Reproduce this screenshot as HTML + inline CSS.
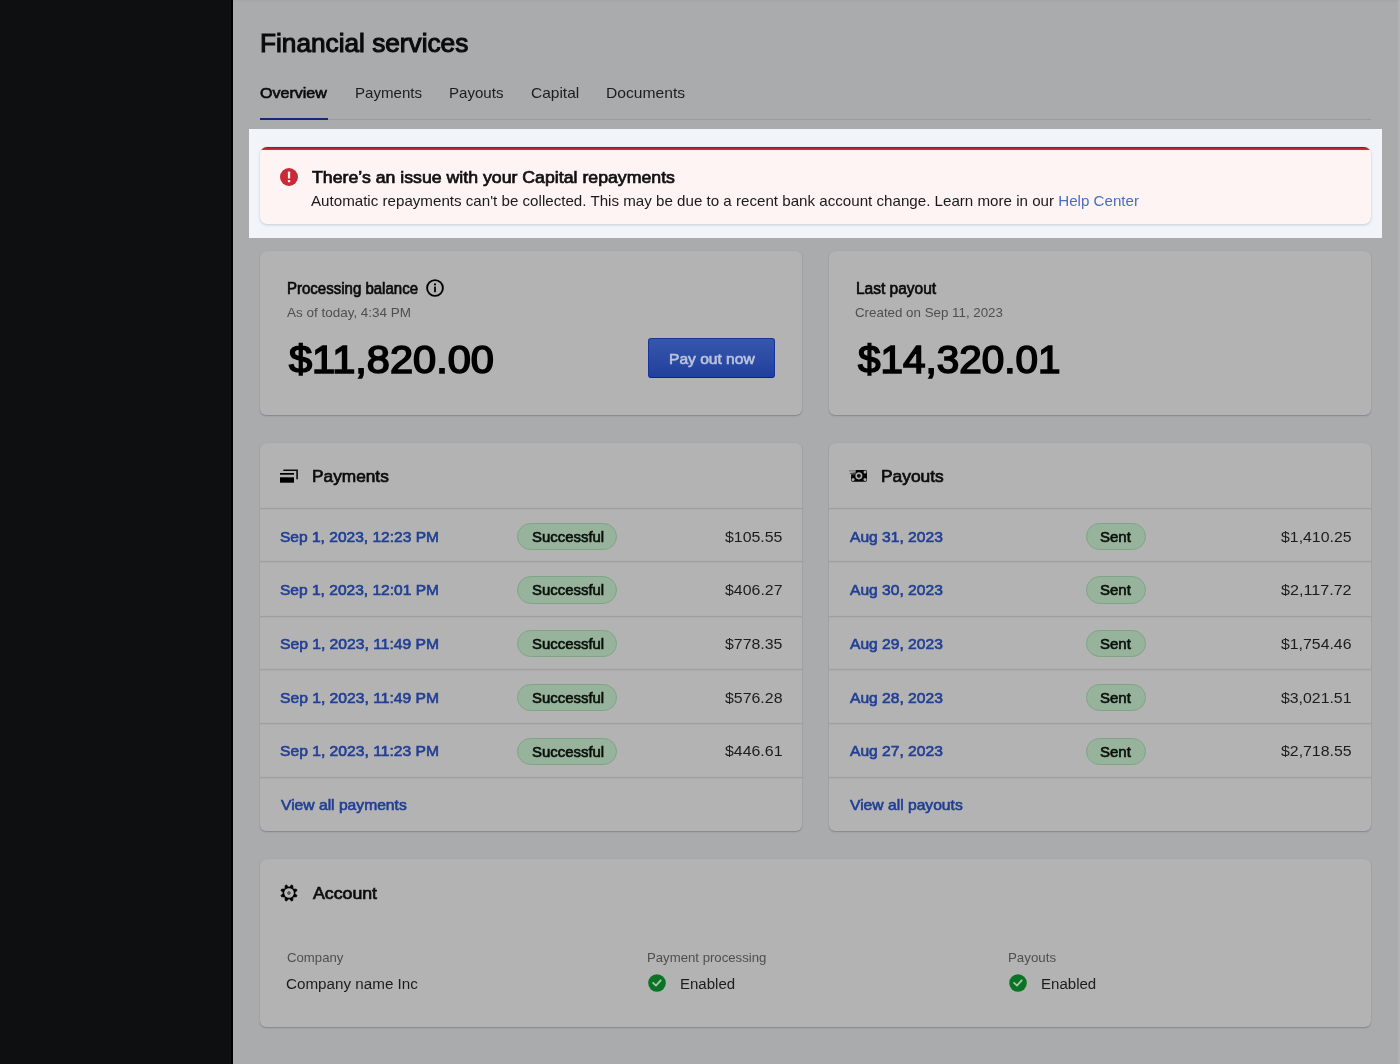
<!DOCTYPE html>
<html lang="en"><head><meta charset="utf-8"><title>Financial services</title>
<style>
html,body{margin:0;padding:0}
body{width:1400px;height:1064px;position:relative;overflow:hidden;background:#aaabad;font-family:"Liberation Sans", sans-serif}
.abs,.card,.ln,.pill,.ic,.t{position:absolute}
.t{white-space:nowrap;line-height:1;transform-origin:0 50%}
.card{background:#b3b3b3;border-radius:6px;box-shadow:0 1px 1.5px rgba(0,0,0,.21),0 0 1px rgba(0,0,0,.10)}
.ln{height:1px;background:#9fa0a1;box-shadow:0 1px 0 rgba(160,161,162,.35),0 -1px 0 rgba(160,161,162,.15)}
.pill{height:27.3px;box-sizing:border-box;border-radius:14px;background:#97b39b;border:1.2px solid #7ea686}
</style></head><body>
<div class="abs" style="left:0;top:0;width:231px;height:1064px;background:#0e0f11"></div>
<div class="abs" style="left:231px;top:0;width:1.6px;height:1064px;background:#000"></div>
<div class="abs" style="left:233px;top:0;width:1167px;height:2px;background:#a6a7a9"></div>
<div class="abs" style="left:1398px;top:0;width:2px;height:1064px;background:#b2b3b3"></div>

<div class="abs" style="left:260px;top:118.8px;width:1111px;height:1.2px;background:#9a9b9d"></div>
<div class="abs" style="left:260px;top:117.5px;width:67.8px;height:2px;background:#112b76"></div>

<div class="abs" style="left:248.8px;top:129px;width:1133.2px;height:108.5px;background:#f1f4f8"></div>
<div class="abs" style="left:260px;top:147px;width:1111px;height:76.8px;border-radius:7px;background:#fff4f4;box-shadow:0 1px 3px rgba(0,0,0,.16),0 0 1px rgba(0,0,0,.08);overflow:hidden"><div style="height:3px;background:linear-gradient(#b30a1d 0,#b30a1d 40%,#c92f3a 55%,#c92f3a 100%)"></div></div>
<svg class="ic" style="left:280px;top:168px" width="18" height="18" viewBox="0 0 18 18"><circle cx="9" cy="9" r="9" fill="#c92a37"/><rect x="7.9" y="3.6" width="2.3" height="7" rx="0.6" fill="#fdeeee"/><rect x="7.9" y="11.9" width="2.3" height="2.4" rx="0.6" fill="#fdeeee"/></svg>

<div class="card" style="left:260px;top:251.2px;width:542px;height:164.2px"></div>
<div class="card" style="left:829px;top:251.2px;width:542px;height:164.2px"></div>
<div class="card" style="left:260px;top:442.5px;width:542px;height:388.7px"></div>
<div class="card" style="left:829px;top:442.5px;width:542px;height:388.7px"></div>
<div class="card" style="left:260px;top:858.7px;width:1111px;height:168px"></div>

<div class="abs" style="left:647.5px;top:338.2px;width:127.6px;height:39.8px;box-sizing:border-box;border-radius:3px;border:1px solid #17349a;border-bottom-color:#0c2389;background:linear-gradient(#3757ac,#21409d)"></div>
<svg class="ic" style="left:425.5px;top:279.2px" width="18" height="18" viewBox="0 0 18 18"><circle cx="9" cy="9" r="7.9" fill="none" stroke="#000" stroke-width="1.9"/><circle cx="9" cy="5.4" r="1.05" fill="#000"/><rect x="8.1" y="7.6" width="1.8" height="5.6" rx="0.5" fill="#000"/></svg><svg class="ic" style="left:279px;top:468px" width="20" height="16" viewBox="0 0 20 16"><path d="M4.9 2.2 H18.1 V10.8" fill="none" stroke="#0a0a0a" stroke-width="1.6" stroke-linecap="round" stroke-linejoin="miter"/><rect x="1" y="5" width="14" height="1.7" fill="#000"/><rect x="1" y="9.3" width="14" height="5.4" fill="#000"/></svg><svg class="ic" style="left:848px;top:469px" width="20" height="14" viewBox="0 0 20 14"><rect x="3.1" y="1.05" width="15.9" height="11.6" rx="1.7" fill="#050505"/><circle cx="17.0" cy="3.1" r="1.5" fill="#ababab"/><circle cx="17.0" cy="10.55" r="1.5" fill="#ababab"/><circle cx="5.1" cy="10.55" r="1.5" fill="#ababab"/><rect x="2.4" y="0.4" width="5.2" height="4.85" fill="#b3b3b3"/><rect x="0.9" y="1.35" width="6.6" height="1.05" fill="#707070"/><path d="M1.9 4.05 L7.9 3.55 L7.9 4.75 L1.9 4.5Z" fill="#1a1a1a"/><circle cx="10.86" cy="6.86" r="2.7" fill="none" stroke="#ababab" stroke-width="1.65"/><circle cx="10.86" cy="6.86" r="0.7" fill="#2c2c2c"/></svg><svg class="ic" style="left:279.96px;top:883.85px" width="18" height="18" viewBox="0 0 18 18"><path d="M14.93 9.43 L16.95 11.57 L16.43 12.80 L13.50 12.89 L12.89 13.50 L12.80 16.43 L11.57 16.95 L9.43 14.93 L8.57 14.93 L6.43 16.95 L5.20 16.43 L5.11 13.50 L4.50 12.89 L1.57 12.80 L1.05 11.57 L3.07 9.43 L3.07 8.57 L1.05 6.43 L1.57 5.20 L4.50 5.11 L5.11 4.50 L5.20 1.57 L6.43 1.05 L8.57 3.07 L9.43 3.07 L11.57 1.05 L12.80 1.57 L12.89 4.50 L13.50 5.11 L16.43 5.20 L16.95 6.43 L14.93 8.57Z" fill="#000" stroke="#000" stroke-width="0.8" stroke-linejoin="round"/><circle cx="9" cy="9" r="4.85" fill="#b6b6b6"/><path d="M9 7.0 L11 9 L9 11 L7 9Z" fill="#555" stroke="#555" stroke-width="0.6" stroke-linejoin="round"/></svg><svg class="ic" style="left:648px;top:974.3px" width="18" height="18" viewBox="0 0 18 18"><circle cx="9" cy="9" r="8.8" fill="#0b7424"/><path d="M5.1 8.9 L8.0 11.6 L12.7 6.3" fill="none" stroke="#a6c6ab" stroke-width="1.8" stroke-linecap="round" stroke-linejoin="round"/></svg><svg class="ic" style="left:1009.3px;top:974.3px" width="18" height="18" viewBox="0 0 18 18"><circle cx="9" cy="9" r="8.8" fill="#0b7424"/><path d="M5.1 8.9 L8.0 11.6 L12.7 6.3" fill="none" stroke="#a6c6ab" stroke-width="1.8" stroke-linecap="round" stroke-linejoin="round"/></svg>
<div class="ln" style="left:260px;top:508.00px;width:542px"></div><div class="ln" style="left:260px;top:561.00px;width:542px"></div><div class="ln" style="left:260px;top:616.00px;width:542px"></div><div class="ln" style="left:260px;top:669.00px;width:542px"></div><div class="ln" style="left:260px;top:723.00px;width:542px"></div><div class="ln" style="left:260px;top:777.00px;width:542px"></div><div class="ln" style="left:829px;top:508.00px;width:542px"></div><div class="ln" style="left:829px;top:561.00px;width:542px"></div><div class="ln" style="left:829px;top:616.00px;width:542px"></div><div class="ln" style="left:829px;top:669.00px;width:542px"></div><div class="ln" style="left:829px;top:723.00px;width:542px"></div><div class="ln" style="left:829px;top:777.00px;width:542px"></div>
<div class="pill" style="left:517px;top:522.70px;width:100px"></div><div class="pill" style="left:517px;top:576.40px;width:100px"></div><div class="pill" style="left:517px;top:630.10px;width:100px"></div><div class="pill" style="left:517px;top:683.80px;width:100px"></div><div class="pill" style="left:517px;top:737.50px;width:100px"></div><div class="pill" style="left:1086.2px;top:522.70px;width:59.6px"></div><div class="pill" style="left:1086.2px;top:576.40px;width:59.6px"></div><div class="pill" style="left:1086.2px;top:630.10px;width:59.6px"></div><div class="pill" style="left:1086.2px;top:683.80px;width:59.6px"></div><div class="pill" style="left:1086.2px;top:737.50px;width:59.6px"></div>
<div style="position:absolute;left:0;top:0;width:1400px;height:1064px;will-change:transform"><span class="t" style="left:259.77px;top:30.07px;font-size:26.5px;color:#0b0b0b;-webkit-text-stroke:1.113px #0b0b0b;transform:scaleX(0.9891)">Financial services</span><span class="t" style="left:260.10px;top:85.30px;font-size:15px;color:#0b0b0b;-webkit-text-stroke:0.630px #0b0b0b;transform:scaleX(1.0699)">Overview</span><span class="t" style="left:354.93px;top:85.30px;font-size:15px;color:#1c1c1d;transform:scaleX(1.0045)">Payments</span><span class="t" style="left:449.45px;top:85.30px;font-size:15px;color:#1c1c1d;transform:scaleX(1.0050)">Payouts</span><span class="t" style="left:531.19px;top:85.30px;font-size:15px;color:#1c1c1d;transform:scaleX(1.0320)">Capital</span><span class="t" style="left:606.18px;top:85.30px;font-size:15px;color:#1c1c1d;transform:scaleX(1.0428)">Documents</span><span class="t" style="left:312.24px;top:169.01px;font-size:17px;color:#111;-webkit-text-stroke:0.714px #111;transform:scaleX(1.0418)">There’s an issue with your Capital repayments</span><span class="t" style="left:311.11px;top:194.48px;font-size:14.5px;color:#1a1a1a;transform:scaleX(1.0439)">Automatic repayments can't be collected. This may be due to a recent bank account change. Learn more in our <span style="color:#4a6dc4">Help Center</span></span><span class="t" style="left:287.10px;top:281.21px;font-size:16px;color:#0b0b0b;-webkit-text-stroke:0.672px #0b0b0b;transform:scaleX(0.9381)">Processing balance</span><span class="t" style="left:286.82px;top:305.60px;font-size:13px;color:#4e4f51;transform:scaleX(1.0361)">As of today, 4:34 PM</span><span class="t" style="left:288.79px;top:340.51px;font-size:38.5px;color:#000;-webkit-text-stroke:1.617px #000;transform:scaleX(1.0796)">$11,820.00</span><span class="t" style="left:668.69px;top:351.05px;font-size:15px;color:#bcc3dd;-webkit-text-stroke:0.630px #bcc3dd;transform:scaleX(1.0376)">Pay out now</span><span class="t" style="left:855.91px;top:281.21px;font-size:16px;color:#0b0b0b;-webkit-text-stroke:0.672px #0b0b0b;transform:scaleX(0.9683)">Last payout</span><span class="t" style="left:855.45px;top:305.60px;font-size:13px;color:#4e4f51;transform:scaleX(1.0251)">Created on Sep 11, 2023</span><span class="t" style="left:858.08px;top:340.51px;font-size:38.5px;color:#000;-webkit-text-stroke:1.617px #000;transform:scaleX(1.0504)">$14,320.01</span><span class="t" style="left:312.38px;top:468.03px;font-size:16.5px;color:#0d0d0d;-webkit-text-stroke:0.693px #0d0d0d;transform:scaleX(1.0470)">Payments</span><span class="t" style="left:881.21px;top:468.03px;font-size:16.5px;color:#0d0d0d;-webkit-text-stroke:0.693px #0d0d0d;transform:scaleX(1.0513)">Payouts</span><span class="t" style="left:280.49px;top:528.90px;font-size:15px;color:#213f94;-webkit-text-stroke:0.630px #213f94;transform:scaleX(1.0359)">Sep 1, 2023, 12:23 PM</span><span class="t" style="left:531.68px;top:528.90px;font-size:15px;color:#0a0f0b;-webkit-text-stroke:0.630px #0a0f0b;transform:scaleX(0.9947)">Successful</span><span class="t" style="left:724.57px;top:528.90px;font-size:15px;color:#1c1c1d;transform:scaleX(1.0593)">$105.55</span><span class="t" style="left:280.49px;top:581.60px;font-size:15px;color:#213f94;-webkit-text-stroke:0.630px #213f94;transform:scaleX(1.0359)">Sep 1, 2023, 12:01 PM</span><span class="t" style="left:531.68px;top:581.60px;font-size:15px;color:#0a0f0b;-webkit-text-stroke:0.630px #0a0f0b;transform:scaleX(0.9947)">Successful</span><span class="t" style="left:724.63px;top:581.60px;font-size:15px;color:#1c1c1d;transform:scaleX(1.0609)">$406.27</span><span class="t" style="left:280.09px;top:636.30px;font-size:15px;color:#213f94;-webkit-text-stroke:0.630px #213f94;transform:scaleX(1.0438)">Sep 1, 2023, 11:49 PM</span><span class="t" style="left:531.68px;top:636.30px;font-size:15px;color:#0a0f0b;-webkit-text-stroke:0.630px #0a0f0b;transform:scaleX(0.9947)">Successful</span><span class="t" style="left:724.57px;top:636.30px;font-size:15px;color:#1c1c1d;transform:scaleX(1.0593)">$778.35</span><span class="t" style="left:280.09px;top:690.00px;font-size:15px;color:#213f94;-webkit-text-stroke:0.630px #213f94;transform:scaleX(1.0438)">Sep 1, 2023, 11:49 PM</span><span class="t" style="left:531.68px;top:690.00px;font-size:15px;color:#0a0f0b;-webkit-text-stroke:0.630px #0a0f0b;transform:scaleX(0.9947)">Successful</span><span class="t" style="left:724.63px;top:690.00px;font-size:15px;color:#1c1c1d;transform:scaleX(1.0599)">$576.28</span><span class="t" style="left:280.09px;top:742.70px;font-size:15px;color:#213f94;-webkit-text-stroke:0.630px #213f94;transform:scaleX(1.0438)">Sep 1, 2023, 11:23 PM</span><span class="t" style="left:531.68px;top:743.70px;font-size:15px;color:#0a0f0b;-webkit-text-stroke:0.630px #0a0f0b;transform:scaleX(0.9947)">Successful</span><span class="t" style="left:724.63px;top:742.70px;font-size:15px;color:#1c1c1d;transform:scaleX(1.0599)">$446.61</span><span class="t" style="left:850.28px;top:528.90px;font-size:15px;color:#213f94;-webkit-text-stroke:0.630px #213f94;transform:scaleX(1.0401)">Aug 31, 2023</span><span class="t" style="left:1100.01px;top:528.90px;font-size:15px;color:#0a0f0b;-webkit-text-stroke:0.630px #0a0f0b;transform:scaleX(0.9980)">Sent</span><span class="t" style="left:1280.58px;top:528.90px;font-size:15px;color:#1c1c1d;transform:scaleX(1.0566)">$1,410.25</span><span class="t" style="left:850.28px;top:581.60px;font-size:15px;color:#213f94;-webkit-text-stroke:0.630px #213f94;transform:scaleX(1.0401)">Aug 30, 2023</span><span class="t" style="left:1100.01px;top:581.60px;font-size:15px;color:#0a0f0b;-webkit-text-stroke:0.630px #0a0f0b;transform:scaleX(0.9980)">Sent</span><span class="t" style="left:1280.94px;top:581.60px;font-size:15px;color:#1c1c1d;transform:scaleX(1.0755)">$2,117.72</span><span class="t" style="left:850.28px;top:636.30px;font-size:15px;color:#213f94;-webkit-text-stroke:0.630px #213f94;transform:scaleX(1.0401)">Aug 29, 2023</span><span class="t" style="left:1100.01px;top:636.30px;font-size:15px;color:#0a0f0b;-webkit-text-stroke:0.630px #0a0f0b;transform:scaleX(0.9980)">Sent</span><span class="t" style="left:1281.12px;top:636.30px;font-size:15px;color:#1c1c1d;transform:scaleX(1.0557)">$1,754.46</span><span class="t" style="left:850.28px;top:690.00px;font-size:15px;color:#213f94;-webkit-text-stroke:0.630px #213f94;transform:scaleX(1.0401)">Aug 28, 2023</span><span class="t" style="left:1100.01px;top:690.00px;font-size:15px;color:#0a0f0b;-webkit-text-stroke:0.630px #0a0f0b;transform:scaleX(0.9980)">Sent</span><span class="t" style="left:1281.12px;top:690.00px;font-size:15px;color:#1c1c1d;transform:scaleX(1.0562)">$3,021.51</span><span class="t" style="left:850.28px;top:742.70px;font-size:15px;color:#213f94;-webkit-text-stroke:0.630px #213f94;transform:scaleX(1.0401)">Aug 27, 2023</span><span class="t" style="left:1100.01px;top:743.70px;font-size:15px;color:#0a0f0b;-webkit-text-stroke:0.630px #0a0f0b;transform:scaleX(0.9980)">Sent</span><span class="t" style="left:1280.58px;top:742.70px;font-size:15px;color:#1c1c1d;transform:scaleX(1.0566)">$2,718.55</span><span class="t" style="left:281.11px;top:796.70px;font-size:15px;color:#213f94;-webkit-text-stroke:0.630px #213f94;transform:scaleX(1.0422)">View all payments</span><span class="t" style="left:849.84px;top:796.70px;font-size:15px;color:#213f94;-webkit-text-stroke:0.630px #213f94;transform:scaleX(1.0427)">View all payouts</span><span class="t" style="left:313.31px;top:885.03px;font-size:16.5px;color:#0d0d0d;-webkit-text-stroke:0.693px #0d0d0d;transform:scaleX(1.0741)">Account</span><span class="t" style="left:286.71px;top:950.75px;font-size:13px;color:#4e4f51;transform:scaleX(1.0131)">Company</span><span class="t" style="left:285.92px;top:976.13px;font-size:15.5px;color:#1c1c1d;transform:scaleX(0.9810)">Company name Inc</span><span class="t" style="left:646.99px;top:950.75px;font-size:13px;color:#4e4f51;transform:scaleX(1.0134)">Payment processing</span><span class="t" style="left:679.78px;top:976.13px;font-size:15.5px;color:#1c1c1d;transform:scaleX(0.9692)">Enabled</span><span class="t" style="left:1008.34px;top:950.75px;font-size:13px;color:#4e4f51;transform:scaleX(1.0223)">Payouts</span><span class="t" style="left:1041.05px;top:976.13px;font-size:15.5px;color:#1c1c1d;transform:scaleX(0.9706)">Enabled</span></div>
</body></html>
